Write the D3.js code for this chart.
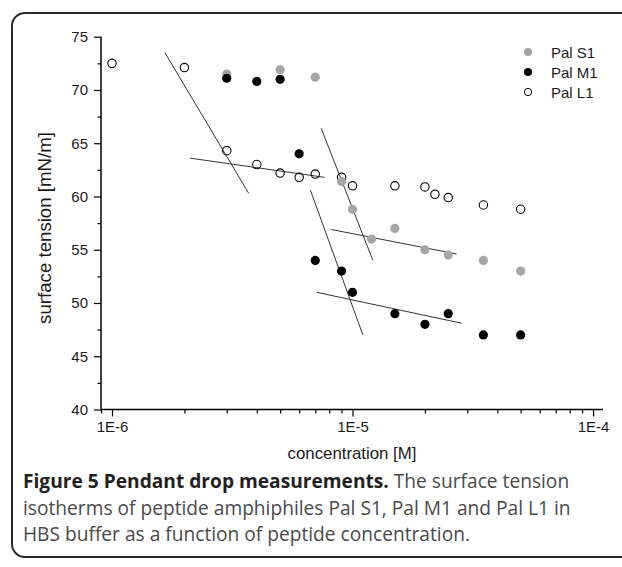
<!DOCTYPE html>
<html>
<head>
<meta charset="utf-8">
<script src="https://cdn.jsdelivr.net/npm/d3@7"></script>
<style>
  html, body { margin: 0; padding: 0; background: #fff; }
  svg { display: block; }
</style>
</head>
<body>
<svg id="chart" width="622" height="567"></svg>
<script>
// ---- data ----
const seriesNames = ["Pal S1", "Pal M1", "Pal L1"];

const palS1Conc = [3e-6, 5e-6, 7e-6, 9e-6, 1e-5, 1.2e-5, 1.5e-5, 2e-5, 2.5e-5, 3.5e-5, 5e-5];
const palS1Tension = [71.5, 71.9, 71.2, 61.4, 58.8, 56.0, 57.0, 55.0, 54.5, 54.0, 53.0];

const palM1Conc = [3e-6, 4e-6, 5e-6, 6e-6, 7e-6, 9e-6, 1e-5, 1.5e-5, 2e-5, 2.5e-5, 3.5e-5, 5e-5];
const palM1Tension = [71.1, 70.8, 71.0, 64.0, 54.0, 53.0, 51.0, 49.0, 48.0, 49.0, 47.0, 47.0];

const palL1Conc = [1e-6, 2e-6, 3e-6, 4e-6, 5e-6, 6e-6, 7e-6, 9e-6, 1e-5, 1.5e-5, 2e-5, 2.2e-5, 2.5e-5, 3.5e-5, 5e-5];
const palL1Tension = [72.5, 72.1, 64.3, 63.0, 62.2, 61.8, 62.1, 61.8, 61.0, 61.0, 60.9, 60.2, 59.9, 59.2, 58.8];

// fitted straight lines: [c1, t1, c2, t2]
const fitLines = [
  [1.66e-6, 73.5, 3.70e-6, 60.3],   // L1 steep
  [2.11e-6, 63.6, 7.64e-6, 61.8],   // L1 flat
  [7.41e-6, 66.4, 1.215e-5, 54.0],  // S1 steep
  [8.16e-6, 56.9, 2.71e-5, 54.6],   // S1 flat
  [6.68e-6, 60.6, 1.104e-5, 47.0],  // M1 steep
  [7.10e-6, 51.0, 2.84e-5, 48.1]    // M1 flat
];

const xMajorTicks = [1e-6, 1e-5, 1e-4];
const xMajorLabels = ["1E-6", "1E-5", "1E-4"];
const yMajorTicks = [40, 45, 50, 55, 60, 65, 70, 75];

const xTitle = "concentration [M]";
const yTitle = "surface tension [mN/m]";
const captionBold = "Figure 5 Pendant drop measurements.";
const captionLines = [
  " The surface tension",
  "isotherms of peptide amphiphiles Pal S1, Pal M1 and Pal L1 in",
  "HBS buffer as a function of peptide concentration."
];

// ---- drawing ----
const svg = d3.select("#chart");
const font = "'Liberation Sans', Arial, sans-serif";

function fitWidth(sel, base, target) {
  const w = sel.node().getComputedTextLength();
  if (w > 0) sel.attr("font-size", base * target / w);
}

// frame
svg.append("rect")
  .attr("x", 12).attr("y", 13)
  .attr("width", 640).attr("height", 544)
  .attr("rx", 13).attr("ry", 13)
  .attr("fill", "none").attr("stroke", "#2b2b2b").attr("stroke-width", 2);

const plot = { left: 101, right: 603, top: 36.7, bottom: 409.5 };

const x = d3.scaleLog().domain([0.9e-6, 1.1e-4]).range([plot.left, plot.right]);
const y = d3.scaleLinear().domain([40, 75]).range([plot.bottom, plot.top]);

// minor ticks
const xMinor = [];
[1e-7, 1e-6, 1e-5, 1e-4].forEach(d => {
  for (let k = 2; k <= 9; k++) {
    const v = k * d;
    if (v >= x.domain()[0] && v <= x.domain()[1]) xMinor.push(v);
  }
});
const yMinor = yMajorTicks.slice(0, -1).map(v => v + 2.5);

// x axis
const gx = svg.append("g").attr("transform", `translate(0,${plot.bottom})`);
gx.call(d3.axisBottom(x).tickValues(xMinor).tickSize(4).tickFormat(""))
  .call(g => g.select(".domain").remove());
gx.append("g").call(d3.axisBottom(x).tickValues(xMajorTicks).tickSize(7).tickPadding(5)
    .tickFormat((d, i) => xMajorLabels[i]))
  .call(g => g.select(".domain").remove());
gx.append("line").attr("x1", plot.left).attr("x2", plot.right)
  .attr("stroke", "#000").attr("stroke-width", 1.5);

// y axis
const gy = svg.append("g").attr("transform", `translate(${plot.left},0)`);
gy.call(d3.axisLeft(y).tickValues(yMinor).tickSize(3.5).tickFormat(""))
  .call(g => g.select(".domain").remove());
gy.append("g").call(d3.axisLeft(y).tickValues(yMajorTicks).tickSize(7).tickPadding(6))
  .call(g => g.select(".domain").remove());
gy.append("line").attr("y1", plot.top).attr("y2", plot.bottom)
  .attr("stroke", "#000").attr("stroke-width", 1.5);

svg.selectAll(".tick line").attr("stroke", "#000").attr("stroke-width", 1.2);
svg.selectAll(".tick text").attr("font-family", font).attr("font-size", 15).attr("fill", "#1a1a1a");

// axis titles
const xt = svg.append("text")
  .attr("x", (plot.left + plot.right) / 2).attr("y", 459)
  .attr("text-anchor", "middle").attr("font-family", font).attr("font-size", 17).attr("fill", "#1a1a1a")
  .text(xTitle);
fitWidth(xt, 17, 129);
const yt = svg.append("text")
  .attr("transform", `translate(51,228) rotate(-90)`)
  .attr("text-anchor", "middle").attr("font-family", font).attr("font-size", 17).attr("fill", "#1a1a1a")
  .text(yTitle);
fitWidth(yt, 17, 192);

// fit lines
svg.append("g").selectAll("line").data(fitLines).join("line")
  .attr("x1", d => x(d[0])).attr("y1", d => y(d[1]))
  .attr("x2", d => x(d[2])).attr("y2", d => y(d[3]))
  .attr("stroke", "#333").attr("stroke-width", 1);

// series
const series = [
  { name: seriesNames[0], c: palS1Conc, t: palS1Tension, fill: "#a6a6a6", stroke: "none" },
  { name: seriesNames[1], c: palM1Conc, t: palM1Tension, fill: "#000", stroke: "none" },
  { name: seriesNames[2], c: palL1Conc, t: palL1Tension, fill: "#fff", stroke: "#000" }
];
const drawOrder = [series[2], series[0], series[1]];
drawOrder.forEach(s => {
  svg.append("g").selectAll("circle").data(s.c.map((c, i) => [c, s.t[i]])).join("circle")
    .attr("cx", d => x(d[0])).attr("cy", d => y(d[1]))
    .attr("r", s.stroke === "none" ? 4.6 : 4.2)
    .attr("fill", s.stroke === "none" ? s.fill : "none")
    .attr("stroke", s.stroke).attr("stroke-width", 1.1);
});

// legend
const lg = svg.append("g").attr("transform", "translate(528,52)");
series.forEach((s, i) => {
  const row = lg.append("g").attr("transform", `translate(0,${i * 20})`);
  row.append("circle").attr("r", s.stroke === "none" ? 4 : 3.6)
    .attr("fill", s.stroke === "none" ? s.fill : "#fff").attr("stroke", s.stroke).attr("stroke-width", 1);
  row.append("text").attr("x", 23).attr("y", 5.5)
    .attr("font-family", font).attr("font-size", 15).attr("fill", "#1a1a1a").text(s.name);
});

// caption
const capFont = "'Open Sans', 'Noto Sans', sans-serif";
const cap = svg.append("g").attr("font-family", capFont).attr("font-size", 19);
const t1 = cap.append("text").attr("x", 23).attr("y", 488);
t1.append("tspan").attr("font-weight", "bold").attr("fill", "#231f20").text(captionBold);
t1.append("tspan").attr("fill", "#4a4a4a").text(captionLines[0]);
const l2 = cap.append("text").attr("x", 23).attr("y", 514.5).attr("fill", "#4a4a4a").text(captionLines[1]);
const l3 = cap.append("text").attr("x", 23).attr("y", 541).attr("fill", "#4a4a4a").text(captionLines[2]);
// scale caption so the second line spans the same width as the figure's
const w2 = l2.node().getComputedTextLength();
if (w2 > 0) cap.attr("font-size", 19 * 548 / w2);
</script>
</body>
</html>
